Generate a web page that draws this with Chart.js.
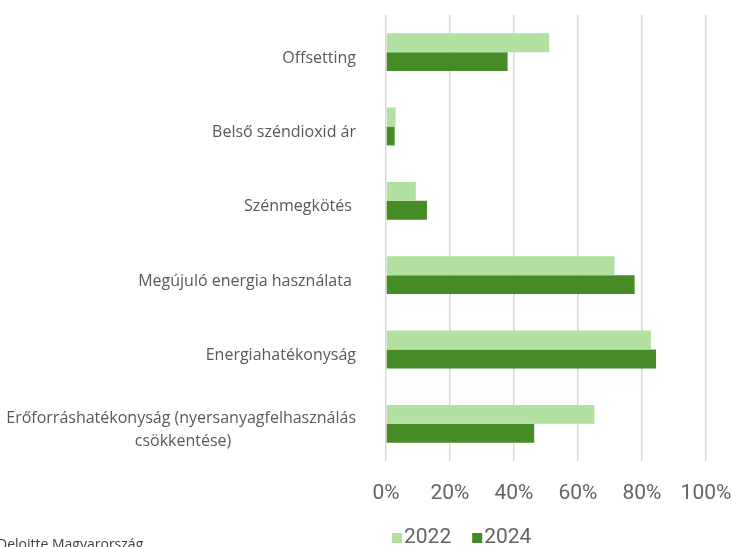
<!DOCTYPE html>
<html>
<head>
<meta charset="utf-8">
<script src="https://cdn.jsdelivr.net/npm/chart.js@4"></script>
<style>
    body { margin: 0; background: #fff; }
    canvas { display: block; }
</style>
</head>
<body>
<canvas id="climateChart" width="732" height="547"></canvas>

<script>

// =====================
// DATA
// =====================

const CATEGORIES = [
    "Offsetting",
    "Belső széndioxid ár",
    "Szénmegkötés ",
    "Megújuló energia használata ",
    "Energiahatékonyság",
    ["Erőforráshatékonyság (nyersanyagfelhasználás", "csökkentése)"]
];

const SERIES_NAMES = ["2022", "2024"];

const VALUES_2022 = [51, 3.0, 9.3, 71.4, 82.8, 65.1];
const VALUES_2024 = [38, 2.7, 12.8, 77.7, 84.4, 46.3];

const X_TICKS = [0, 20, 40, 60, 80, 100];

const SOURCE_TEXT = "Deloitte Magyarország";


// =====================
// HELPERS
// =====================

const measureCtx = document.createElement('canvas').getContext('2d');
const LABEL_FONT = "16px 'Open Sans'";

// multi-line labels are centred on each other, single ones right-aligned
function centreLines(label) {
    if (!Array.isArray(label)) return label;
    measureCtx.font = LABEL_FONT;
    const widths = label.map(l => measureCtx.measureText(l).width);
    const maxW = Math.max.apply(null, widths);
    const spaceW = measureCtx.measureText(' ').width;
    return label.map((l, i) => {
        const n = Math.round((maxW - widths[i]) / 2 / spaceW);
        return l + ' '.repeat(n);
    });
}

const bottomLegend = {
    id: 'bottomLegend',
    afterDraw(chart) {
        const ctx = chart.ctx;
        ctx.save();
        ctx.font = "21px Roboto";
        ctx.textBaseline = 'middle';
        ctx.textAlign = 'left';
        let x = 392;
        const y = 538;
        chart.data.datasets.forEach(ds => {
            ctx.fillStyle = ds.backgroundColor;
            ctx.fillRect(x, y - 5, 10, 10);
            ctx.fillStyle = '#646464';
            ctx.fillText(ds.label, x + 12, y);
            x += 12 + ctx.measureText(ds.label).width + 21;
        });

        // source note, clipped at the bottom edge like the original
        ctx.font = "14px 'Open Sans'";
        ctx.fillStyle = '#404040';
        ctx.textBaseline = 'alphabetic';
        ctx.fillText(SOURCE_TEXT, -3, 549);
        ctx.restore();
    }
};


// =====================
// CHART
// =====================

new Chart(document.getElementById('climateChart'), {
    type: 'bar',
    data: {
        labels: CATEGORIES,
        datasets: [{
            label: SERIES_NAMES[0],
            data: VALUES_2022,
            backgroundColor: '#b2e0a0',
            categoryPercentage: 0.51,
            barPercentage: 1
        }, {
            label: SERIES_NAMES[1],
            data: VALUES_2024,
            backgroundColor: '#458c26',
            categoryPercentage: 0.51,
            barPercentage: 1
        }]
    },
    options: {
        indexAxis: 'y',
        responsive: false,
        maintainAspectRatio: false,
        animation: false,
        layout: {
            padding: { top: 15, right: 26, bottom: 0, left: 0 }
        },
        plugins: {
            legend: { display: false },
            tooltip: { enabled: false }
        },
        scales: {
            x: {
                min: 0,
                max: 100,
                afterBuildTicks: function (scale) {
                    scale.ticks = X_TICKS.map(v => ({ value: v }));
                },
                afterFit: function (scale) {
                    scale.height = 86;
                    scale.paddingLeft = 0;
                    scale.paddingRight = 0;
                },
                border: { display: false },
                grid: {
                    color: '#d9d9d9',
                    lineWidth: 1.5,
                    drawTicks: false
                },
                ticks: {
                    padding: 20,
                    color: '#646464',
                    font: { family: 'Roboto', size: 21 },
                    maxRotation: 0,
                    callback: function (value) {
                        return value + '%';
                    }
                }
            },
            y: {
                afterFit: function (scale) {
                    scale.width = 386;
                    scale.paddingTop = 0;
                    scale.paddingBottom = 0;
                },
                border: { display: false },
                grid: { display: false, drawTicks: false },
                ticks: {
                    padding: 30,
                    labelOffset: 6,
                    color: '#595959',
                    font: { family: 'Open Sans', size: 16, lineHeight: 1.4 },
                    callback: function (value, index) {
                        return centreLines(CATEGORIES[index]);
                    }
                }
            }
        }
    },
    plugins: [bottomLegend]
});

</script>
</body>
</html>
